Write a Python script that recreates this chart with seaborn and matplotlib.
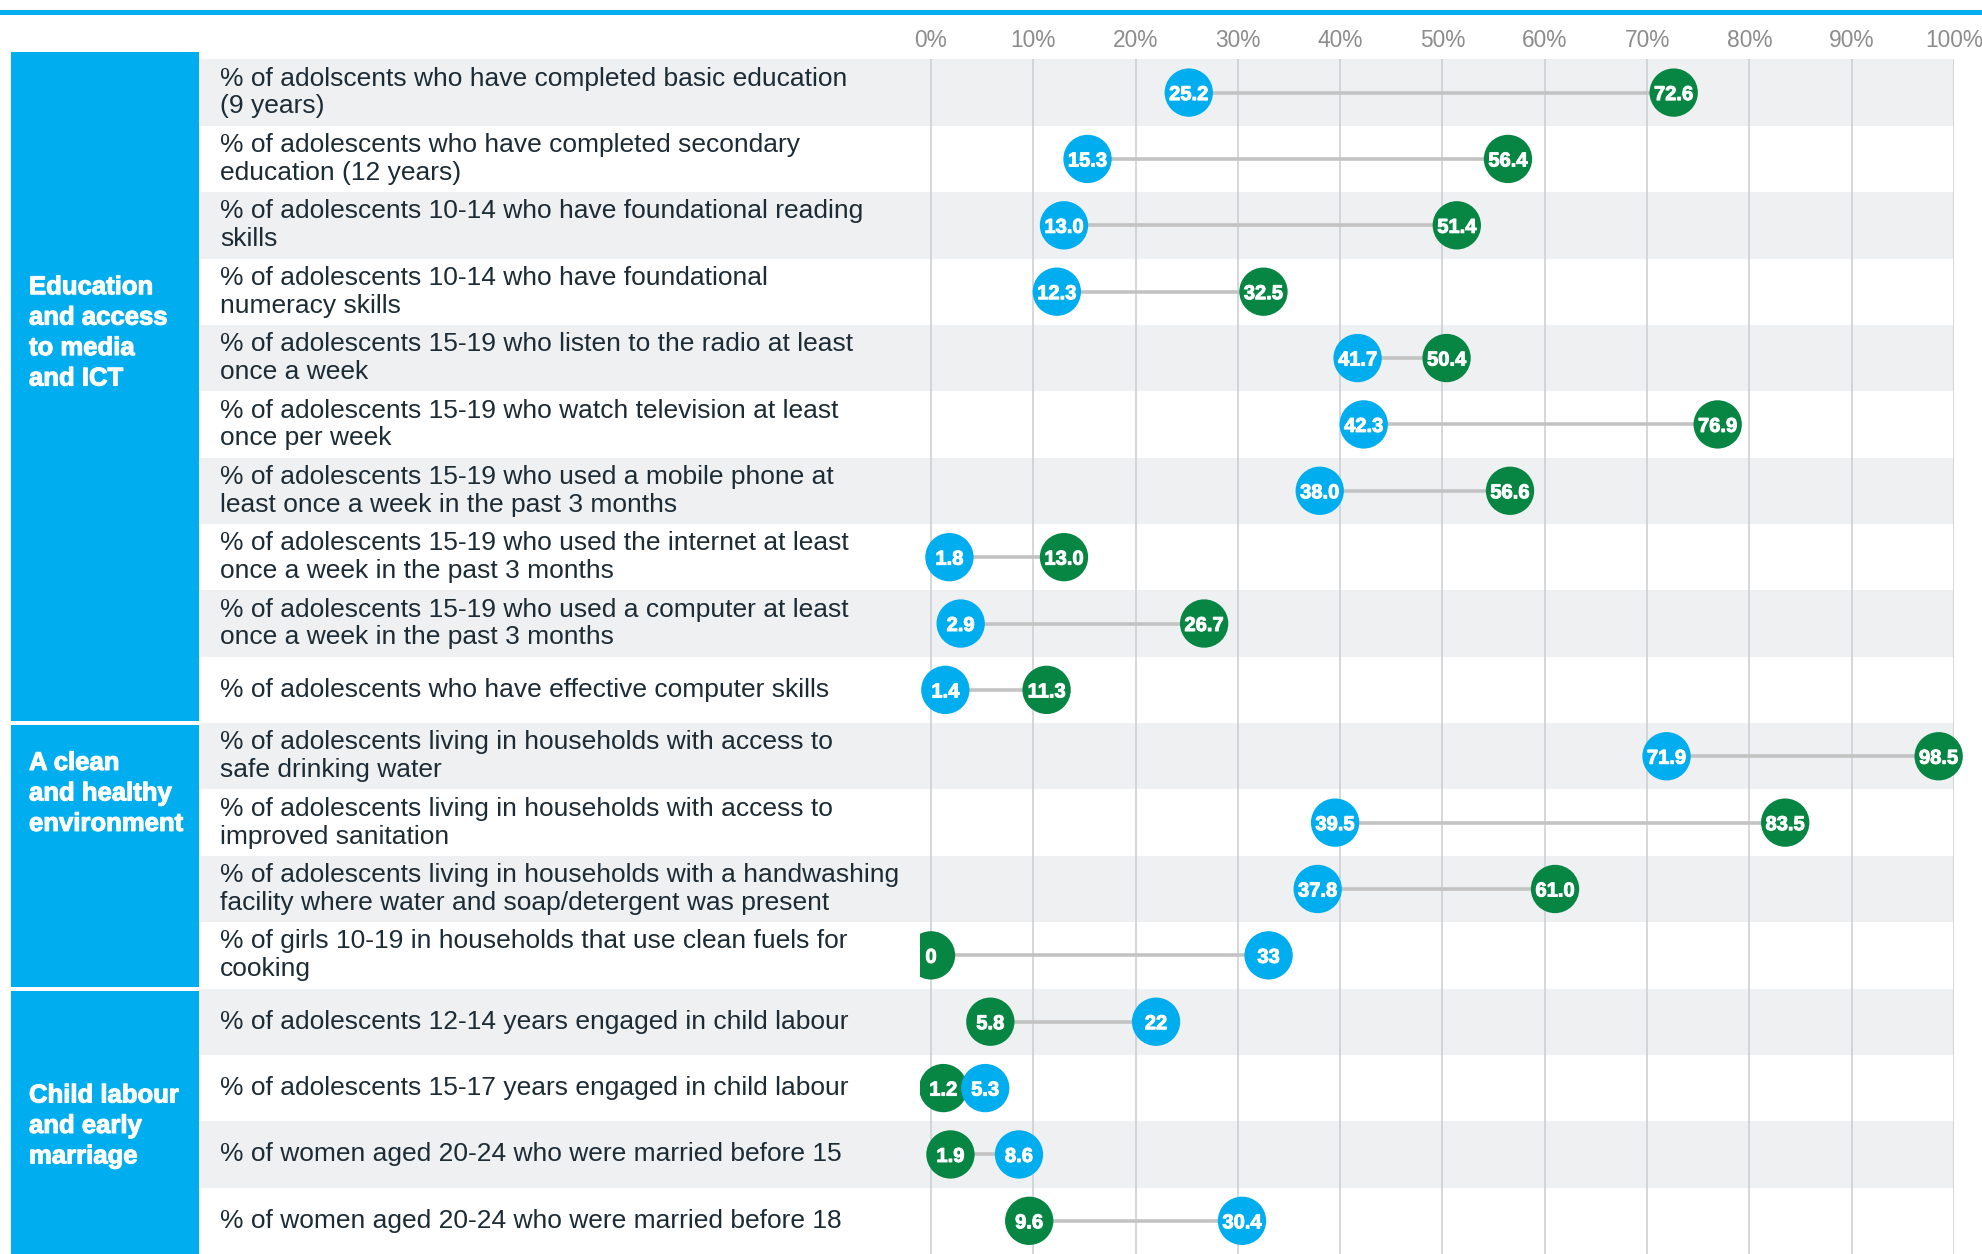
import numpy as np
import pandas as pd
import matplotlib
matplotlib.use("Agg")
import matplotlib.pyplot as plt
import matplotlib.patheffects as pe
from matplotlib.patches import Rectangle
from matplotlib.transforms import blended_transform_factory
import seaborn as sns

# ---------------------------------------------------------------- data
indicators = [
    "% of adolscents who have completed basic education\n(9 years)",
    "% of adolescents who have completed secondary\neducation (12 years)",
    "% of adolescents 10-14 who have foundational reading\nskills",
    "% of adolescents 10-14 who have foundational\nnumeracy skills",
    "% of adolescents 15-19 who listen to the radio at least\nonce a week",
    "% of adolescents 15-19 who watch television at least\nonce per week",
    "% of adolescents 15-19 who used a mobile phone at\nleast once a week in the past 3 months",
    "% of adolescents 15-19 who used the internet at least\nonce a week in the past 3 months",
    "% of adolescents 15-19 who used a computer at least\nonce a week in the past 3 months",
    "% of adolescents who have effective computer skills",
    "% of adolescents living in households with access to\nsafe drinking water",
    "% of adolescents living in households with access to\nimproved sanitation",
    "% of adolescents living in households with a handwashing\nfacility where water and soap/detergent was present",
    "% of girls 10-19 in households that use clean fuels for\ncooking",
    "% of adolescents 12-14 years engaged in child labour",
    "% of adolescents 15-17 years engaged in child labour",
    "% of women aged 20-24 who were married before 15",
    "% of women aged 20-24 who were married before 18",
]

groups = [
    "Education\nand access\nto media\nand ICT",
    "A clean\nand healthy\nenvironment",
    "Child labour\nand early\nmarriage",
]
group_sizes = [10, 4, 4]

cyan_text = ["25.2", "15.3", "13.0", "12.3", "41.7", "42.3", "38.0", "1.8", "2.9",
             "1.4", "71.9", "39.5", "37.8", "33", "22", "5.3", "8.6", "30.4"]
green_text = ["72.6", "56.4", "51.4", "32.5", "50.4", "76.9", "56.6", "13.0", "26.7",
              "11.3", "98.5", "83.5", "61.0", "0", "5.8", "1.2", "1.9", "9.6"]

tick_values = list(range(0, 101, 10))
tick_labels = [f"{t}%" for t in tick_values]

cyan_vals = np.array([float(s) for s in cyan_text])
green_vals = np.array([float(s) for s in green_text])

# ---------------------------------------------------------------- style
CYAN = "#00adee"
GREEN = "#068543"
STRIPE = "#eef0f2"
GRID = "#c9ced2"
LINK = "#c3c3c3"
TEXT = "#1d2b35"
TICK = "#8c8c8c"

W, H = 1982, 1254
TOP_PX, LEFT_PX, RIGHT_PX, ZERO_PX = 59.4, 199, 1954, 931

sns.set_theme(style="white")
plt.rcParams["font.family"] = ["Liberation Sans", "DejaVu Sans"]

fig = plt.figure(figsize=(W / 100, H / 100), dpi=100)
fig.patch.set_facecolor("white")
ax = fig.add_axes([LEFT_PX / W, 0, (RIGHT_PX - LEFT_PX) / W, (H - TOP_PX) / H])

n = len(indicators)
rows = np.arange(n)
row_px = (H - TOP_PX) / n
x_min = 100 * (LEFT_PX - ZERO_PX) / (RIGHT_PX - ZERO_PX)

# alternating row bands
for i in range(0, n, 2):
    ax.axhspan(i - 0.5, i + 0.5, color=STRIPE, lw=0, zorder=0)

# connectors between the two values of each indicator
ax.hlines(rows, np.minimum(cyan_vals, green_vals), np.maximum(cyan_vals, green_vals),
          color=LINK, lw=2.6, zorder=2)

# dots: green first so cyan sits on top where they overlap
df = pd.DataFrame({
    "row": np.concatenate([rows, rows]),
    "value": np.concatenate([green_vals, cyan_vals]),
    "series": ["green"] * n + ["cyan"] * n,
})
sns.scatterplot(data=df, x="value", y="row", hue="series",
                palette={"green": GREEN, "cyan": CYAN},
                s=1210, linewidth=0, legend=False, ax=ax, zorder=3)
dots = ax.collections[-1]
dots.set_clip_path(Rectangle((-1.1, -5), 120, n + 10, transform=ax.transData))

bold_fx = [pe.withStroke(linewidth=0.7, foreground="white")]
for r, v, t in zip(rows, green_vals, green_text):
    ax.text(v, r, t, ha="center", va="center_baseline", color="white",
            fontsize=14.5, fontweight="bold", zorder=5, path_effects=bold_fx)
for r, v, t in zip(rows, cyan_vals, cyan_text):
    ax.text(v, r, t, ha="center", va="center_baseline", color="white",
            fontsize=14.5, fontweight="bold", zorder=5, path_effects=bold_fx)

# axes, ticks and grid
ax.set_xlim(x_min, 100)
ax.set_ylim(n - 0.5, -0.5)
ax.set_xticks(tick_values)
ax.set_xticklabels(tick_labels)
ax.set_yticks([])
ax.set_xlabel("")
ax.set_ylabel("")
ax.xaxis.tick_top()
ax.tick_params(axis="x", length=0, pad=5, labelsize=16.4, labelcolor=TICK)
ax.set_axisbelow(True)
ax.grid(axis="x", color=GRID, lw=1.1)
ax.grid(axis="y", visible=False)
for s in ax.spines.values():
    s.set_visible(False)

# indicator labels
ytr = ax.get_yaxis_transform()
label_x = (220 - LEFT_PX) / (RIGHT_PX - LEFT_PX)
for r, txt in zip(rows, indicators):
    ax.text(label_x, r, txt, transform=ytr, ha="left", va="center",
            fontsize=19, color=TEXT, linespacing=1.2)

# group panels on the left
btr = blended_transform_factory(fig.transFigure, ax.transData)
group_label_rows = [3.62, 10.56, 15.57]
half_gap = 2 / row_px
start = 0
for k, (name, size) in enumerate(zip(groups, group_sizes)):
    y0 = start - 0.5 + (half_gap if k > 0 else -(TOP_PX - 52) / row_px)
    y1 = start + size - 0.5 - (half_gap if k < len(groups) - 1 else -1)
    ax.add_artist(Rectangle((11 / W, y0), 188 / W, y1 - y0, transform=btr,
                            facecolor=CYAN, lw=0, clip_on=False, zorder=1))
    ax.text(29 / W, group_label_rows[k], name, transform=btr, ha="left", va="center",
            color="white", fontsize=18.5, fontweight="bold", linespacing=1.34,
            clip_on=False, zorder=2,
            path_effects=[pe.withStroke(linewidth=0.8, foreground="white")])
    start += size

# top rule
fig.add_artist(Rectangle((0, 1 - 15 / H), 1, 5 / H, transform=fig.transFigure,
                         facecolor=CYAN, lw=0))

fig.savefig("out.png", dpi=100, facecolor="white")
